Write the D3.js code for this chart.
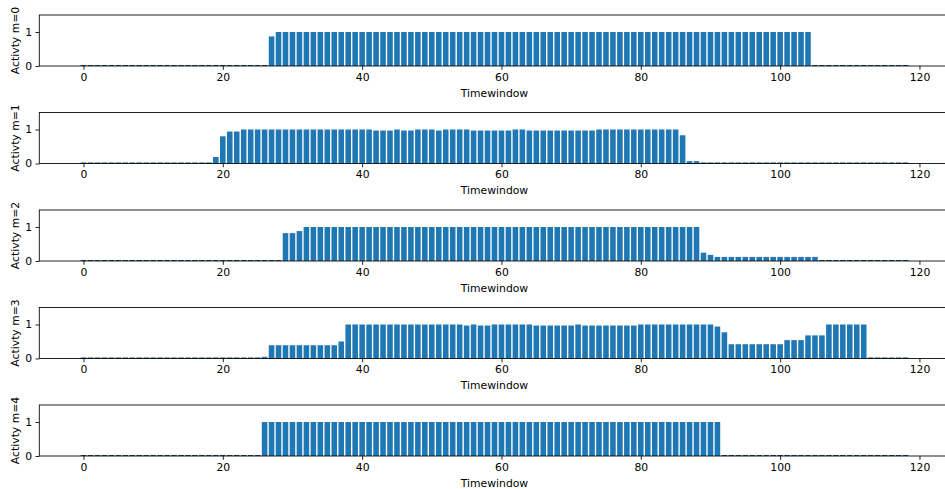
<!DOCTYPE html>
<html>
<head>
<meta charset="utf-8">
<script src="https://cdn.jsdelivr.net/npm/d3@7"></script>
<style>
  body { margin: 0; background: #fff; }
  svg { display: block; font-family: "DejaVu Sans", sans-serif; }
</style>
</head>
<body>
<svg id="chart" width="945" height="489"></svg>
<script>
// Data: activity per timewindow (indices 0..118) for each m
const timewindows = d3.range(0, 119);
const xTicks = [0, 20, 40, 60, 80, 100, 120];
const yTicks = [0, 1];
const seriesLabels = ["Activty m=0", "Activty m=1", "Activty m=2", "Activty m=3", "Activty m=4"];

const m0 = [
  0,0,0,0,0,0,0,0,0,0, 0,0,0,0,0,0,0,0,0,0, 0,0,0,0,0,0,0,0.87,1,1,
  1,1,1,1,1,1,1,1,1,1, 1,1,1,1,1,1,1,1,1,1, 1,1,1,1,1,1,1,1,1,1,
  1,1,1,1,1,1,1,1,1,1, 1,1,1,1,1,1,1,1,1,1, 1,1,1,1,1,1,1,1,1,1,
  1,1,1,1,1,1,1,1,1,1, 1,1,1,1,1,0,0,0,0,0, 0,0,0,0,0,0,0,0,0
];
const m1 = [
  0,0,0,0,0,0,0,0,0,0, 0,0,0,0,0,0,0,0,0,0.19, 0.80,0.94,0.94,1,1,1,1,1,1,1,
  1,1,1,1,1,1,1,1,1,1, 1,1,0.97,0.97,0.97,1,0.97,0.97,1,1, 1,0.97,1,1,1,1,0.97,0.97,0.97,0.97,
  0.97,0.97,1,1,0.97,0.97,0.97,0.97,0.97,0.97, 0.97,0.97,0.97,0.97,1,1,1,1,1,1, 1,1,1,1,1,1,0.83,0.07,0.07,0,
  0,0,0,0,0,0,0,0,0,0, 0,0,0,0,0,0,0,0,0,0, 0,0,0,0,0,0,0,0,0
];
const m2 = [
  0,0,0,0,0,0,0,0,0,0, 0,0,0,0,0,0,0,0,0,0, 0,0,0,0,0,0,0,0,0,0.82,
  0.82,0.88,1,1,1,1,1,1,1,1, 1,1,1,1,1,1,1,1,1,1, 1,1,1,1,1,1,1,1,1,1,
  1,1,1,1,1,1,1,1,1,1, 1,1,1,1,1,1,1,1,1,1, 1,1,1,1,1,1,1,1,1,0.245,
  0.18,0.12,0.12,0.12,0.12,0.12,0.12,0.12,0.12,0.12, 0.12,0.12,0.12,0.12,0.12,0.12,0,0,0,0,
  0,0,0,0,0,0,0,0,0
];
const m3 = [
  0,0,0,0,0,0,0,0,0,0, 0,0,0,0,0,0,0,0,0,0, 0,0,0,0,0,0,0.05,0.39,0.39,0.39,
  0.39,0.39,0.39,0.39,0.39,0.39,0.39,0.50,1,1, 1,1,1,1,1,1,1,1,1,1, 1,1,1,1,1,0.97,1,0.97,0.97,1,
  1,1,1,1,1,0.97,0.97,0.97,0.97,0.97, 0.97,1,0.97,0.97,0.97,0.97,0.97,0.97,0.97,0.97, 1,1,1,1,1,1,1,1,1,1,
  1,0.94,0.77,0.42,0.42,0.42,0.42,0.42,0.42,0.42, 0.42,0.54,0.54,0.54,0.68,0.68,0.68,1,1,1,
  1,1,1,0,0,0,0,0,0
];
const m4 = [
  0,0,0,0,0,0,0,0,0,0, 0,0,0,0,0,0,0,0,0,0, 0,0,0,0,0,0,1,1,1,1,
  1,1,1,1,1,1,1,1,1,1, 1,1,1,1,1,1,1,1,1,1, 1,1,1,1,1,1,1,1,1,1,
  1,1,1,1,1,1,1,1,1,1, 1,1,1,1,1,1,1,1,1,1, 1,1,1,1,1,1,1,1,1,1,
  1,1,0,0,0,0,0,0,0,0, 0,0,0,0,0,0,0,0,0,0, 0,0,0,0,0,0,0,0,0
];
const allSeries = [m0, m1, m2, m3, m4];

const svg = d3.select("#chart");
const color = "#1f77b4";
const fontSize = 10.8;

const left = 39.3, right = 949.7;
const panelTop0 = 15, panelStep = 97.5, panelH = 51;
const x = d3.scaleLinear().domain([-6.34, 124.34]).range([left, right]);
const barHalf = 0.4;

allSeries.forEach((vals, k) => {
  const top = panelTop0 + k * panelStep;
  const bottom = top + panelH;
  const y = d3.scaleLinear().domain([0, 1.5]).range([bottom, top]);
  const g = svg.append("g");

  // bars
  g.selectAll("rect.bar")
    .data(timewindows)
    .join("rect")
    .attr("class", "bar")
    .attr("x", i => x(i - barHalf))
    .attr("width", i => x(i + barHalf) - x(i - barHalf))
    .attr("y", i => vals[i] > 0 ? y(vals[i]) : y(0) - 1)
    .attr("height", i => vals[i] > 0 ? y(0) - y(vals[i]) : 1)
    .attr("fill", i => vals[i] > 0 ? color : "#16496e");

  // x axis
  const xa = g.append("g")
    .attr("transform", `translate(0,${bottom})`)
    .call(d3.axisBottom(x).tickValues(xTicks).tickFormat(d3.format("d")).tickSize(3.8).tickPadding(3.4));
  xa.select(".domain").remove();
  xa.selectAll("line").attr("stroke", "#000").attr("stroke-width", 0.86);
  xa.selectAll("text").attr("font-size", fontSize).attr("font-family", "DejaVu Sans").attr("fill", "#000");

  // y axis
  const ya = g.append("g")
    .attr("transform", `translate(${left},0)`)
    .call(d3.axisLeft(y).tickValues(yTicks).tickFormat(d3.format("d")).tickSize(3.8).tickPadding(3.4));
  ya.select(".domain").remove();
  ya.selectAll("line").attr("stroke", "#000").attr("stroke-width", 0.86);
  ya.selectAll("text").attr("font-size", fontSize).attr("font-family", "DejaVu Sans").attr("fill", "#000");

  // spines
  g.append("rect")
    .attr("x", left).attr("y", top)
    .attr("width", right - left).attr("height", panelH)
    .attr("fill", "none").attr("stroke", "#000").attr("stroke-width", 0.86);

  // axis labels
  g.append("text")
    .attr("x", (left + right) / 2)
    .attr("y", bottom + 30.5)
    .attr("text-anchor", "middle")
    .attr("font-size", fontSize)
    .text("Timewindow");

  g.append("text")
    .attr("transform", `translate(19,${(top + bottom) / 2}) rotate(-90)`)
    .attr("text-anchor", "middle")
    .attr("font-size", fontSize)
    .text(seriesLabels[k]);
});
</script>
</body>
</html>
